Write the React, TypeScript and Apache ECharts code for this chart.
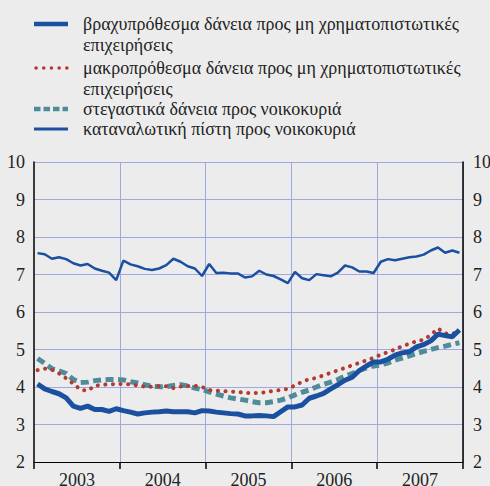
import React, { useEffect, useRef } from "react";
import * as echarts from "echarts";

const years = ["2003", "2004", "2005", "2006", "2007"];
const months: string[] = [];
years.forEach((y) => {
  for (let m = 1; m <= 12; m++) months.push(y + "-" + (m < 10 ? "0" + m : m));
});

const shortTermCorp = [
  4.08, 3.95, 3.88, 3.82, 3.71, 3.49, 3.43, 3.49, 3.40, 3.40, 3.35, 3.42,
  3.37, 3.33, 3.28, 3.31, 3.33, 3.34, 3.36, 3.34, 3.34, 3.34, 3.31, 3.37,
  3.36, 3.33, 3.31, 3.29, 3.28, 3.23, 3.23, 3.24, 3.23, 3.21, 3.34, 3.47,
  3.47, 3.52, 3.70, 3.76, 3.83, 3.95, 4.06, 4.18, 4.26, 4.44, 4.56, 4.67,
  4.67, 4.74, 4.85, 4.91, 4.94, 5.07, 5.13, 5.23, 5.41, 5.37, 5.34, 5.52,
];

const longTermCorp = [
  4.45, 4.49, 4.46, 4.36, 4.23, 4.09, 3.93, 3.90, 4.03, 4.06, 4.07, 4.08,
  4.08, 4.07, 4.04, 4.01, 4.01, 4.03, 4.02, 3.97, 4.01, 4.03, 4.03, 4.00,
  3.92, 3.90, 3.89, 3.88, 3.87, 3.84, 3.84, 3.84, 3.86, 3.90, 3.92, 3.95,
  4.04, 4.14, 4.21, 4.24, 4.31, 4.38, 4.44, 4.51, 4.58, 4.64, 4.71, 4.78,
  4.86, 4.93, 5.00, 5.09, 5.15, 5.22, 5.26, 5.39, 5.56, 5.43, 5.41, 5.52,
];

const housing = [
  4.76, 4.63, 4.49, 4.43, 4.36, 4.20, 4.12, 4.13, 4.17, 4.19, 4.20, 4.20,
  4.19, 4.14, 4.11, 4.06, 4.02, 4.01, 4.01, 4.04, 4.06, 4.03, 3.97, 3.93,
  3.87, 3.81, 3.76, 3.71, 3.68, 3.65, 3.61, 3.58, 3.58, 3.61, 3.65, 3.71,
  3.79, 3.86, 3.92, 4.00, 4.07, 4.13, 4.20, 4.29, 4.36, 4.44, 4.51, 4.56,
  4.59, 4.64, 4.72, 4.77, 4.83, 4.89, 4.95, 5.00, 5.05, 5.09, 5.14, 5.18,
];

const consumer = [
  7.57, 7.54, 7.42, 7.46, 7.41, 7.30, 7.24, 7.28, 7.16, 7.10, 7.05, 6.85,
  7.37, 7.27, 7.22, 7.15, 7.12, 7.16, 7.25, 7.42, 7.34, 7.22, 7.16, 6.96,
  7.28, 7.04, 7.05, 7.03, 7.03, 6.92, 6.95, 7.10, 7.00, 6.96, 6.87, 6.77,
  7.07, 6.90, 6.85, 7.01, 6.98, 6.95, 7.05, 7.24, 7.19, 7.08, 7.08, 7.04,
  7.34, 7.41, 7.38, 7.42, 7.46, 7.48, 7.53, 7.64, 7.72, 7.58, 7.64, 7.58,
];

const legendLines = [
  ["βραχυπρόθεσμα δάνεια προς μη χρηματοπιστωτικές", "επιχειρήσεις"],
  ["μακροπρόθεσμα δάνεια προς μη χρηματοπιστωτικές", "επιχειρήσεις"],
  ["στεγαστικά δάνεια προς νοικοκυριά"],
  ["καταναλωτική πίστη προς νοικοκυριά"],
];
const seriesNames = legendLines.map((l) => l.join(" "));

const yTicks = [2, 3, 4, 5, 6, 7, 8, 9, 10];

const BLUE = "#1b4f9f";
const RED = "#b23a30";
const TEAL = "#508b99";
const GRID = "#9ea8e2";
const FONT = "Liberation Serif";
const TEXT = "#222222";

export default function App() {
  const ref = useRef<HTMLDivElement>(null);
  useEffect(() => {
    document.body.style.margin = "0";
    if (!ref.current) return;
    const chart = echarts.init(ref.current, undefined, { renderer: "svg" });
    const legendRows = [
      { y: 24, kind: "thick" },
      { y: 68, kind: "dot" },
      { y: 109, kind: "dash" },
      { y: 129, kind: "thin" },
    ];
    const graphic: any[] = [];
    legendRows.forEach((r, i) => {
      let style: any = { stroke: BLUE, lineWidth: 4.5 };
      if (r.kind === "dot") style = { stroke: RED, lineWidth: 3.5, lineDash: [0.1, 7.6], lineCap: "round" };
      if (r.kind === "dash") style = { stroke: TEAL, lineWidth: 4.5, lineDash: [6.5, 3] };
      if (r.kind === "thin") style = { stroke: BLUE, lineWidth: 3 };
      graphic.push({
        type: "line",
        shape: { x1: r.kind === "dot" ? 36 : 34, y1: r.y, x2: 68, y2: r.y },
        style,
      });
      legendLines[i].forEach((t, j) => {
        graphic.push({
          type: "text",
          x: 83,
          y: r.y + j * 20.5,
          style: {
            text: t,
            fontFamily: FONT,
            fontSize: 18,
            fill: TEXT,
            verticalAlign: "middle",
          },
        });
      });
    });

    const label = { color: TEXT, fontSize: 18, fontFamily: FONT };

    chart.setOption({
      animation: false,
      backgroundColor: "#ececec",
      grid: {
        left: 34,
        right: 27,
        top: 162,
        bottom: 24,
        containLabel: false,
        outerBoundsMode: "none",
      },
      xAxis: [
        {
          type: "category",
          data: months,
          boundaryGap: true,
          axisLine: { show: true, lineStyle: { color: "#000000", width: 1 } },
          axisTick: {
            show: true,
            interval: (idx: number) => idx % 12 === 0,
            length: 7,
            lineStyle: { color: "#000", width: 1.5 },
          },
          axisLabel: { show: false },
          splitLine: {
            show: true,
            interval: (idx: number) => idx % 12 === 0 && idx > 0,
            lineStyle: { color: GRID, width: 1 },
          },
        },
        {
          type: "value",
          min: 0,
          max: 60,
          interval: 6,
          position: "bottom",
          axisLine: { show: false },
          axisTick: { show: false },
          splitLine: { show: false },
          axisLabel: {
            ...label,
            show: true,
            margin: 9,
            formatter: (v: number) =>
              v % 12 === 6 ? years[(v - 6) / 12] : "",
          },
        },
      ],
      yAxis: [
        {
          type: "value",
          min: 2,
          max: 10,
          interval: 1,
          position: "left",
          axisLine: { show: true, lineStyle: { color: "#000", width: 1.5 } },
          axisTick: { show: false },
          axisLabel: {
            ...label,
            margin: 9,
            formatter: (v: number) => (yTicks.includes(v) ? String(v) : ""),
          },
          splitLine: { show: true, lineStyle: { color: GRID, width: 1 } },
        },
        {
          type: "value",
          min: 2,
          max: 10,
          interval: 1,
          position: "right",
          axisLine: { show: true, lineStyle: { color: "#000", width: 1.5 } },
          axisTick: { show: false },
          axisLabel: { ...label, margin: 10 },
          splitLine: { show: false },
        },
      ],
      series: [
        {
          name: seriesNames[3],
          type: "line",
          data: consumer,
          symbol: "none",
          lineStyle: { color: BLUE, width: 2.5 },
          z: 2,
        },
        {
          name: seriesNames[2],
          type: "line",
          data: housing,
          symbol: "none",
          lineStyle: { color: TEAL, width: 5, type: [8, 4.5] },
          z: 3,
        },
        {
          name: seriesNames[1],
          type: "line",
          data: longTermCorp,
          symbol: "none",
          lineStyle: { color: RED, width: 4, type: [0.1, 7.5], cap: "round" },
          z: 4,
        },
        {
          name: seriesNames[0],
          type: "line",
          data: shortTermCorp,
          symbol: "none",
          lineStyle: { color: BLUE, width: 5 },
          z: 5,
        },
      ],
      graphic,
    });
    return () => chart.dispose();
  }, []);
  return <div ref={ref} style={{ width: 490, height: 486 }} />;
}
